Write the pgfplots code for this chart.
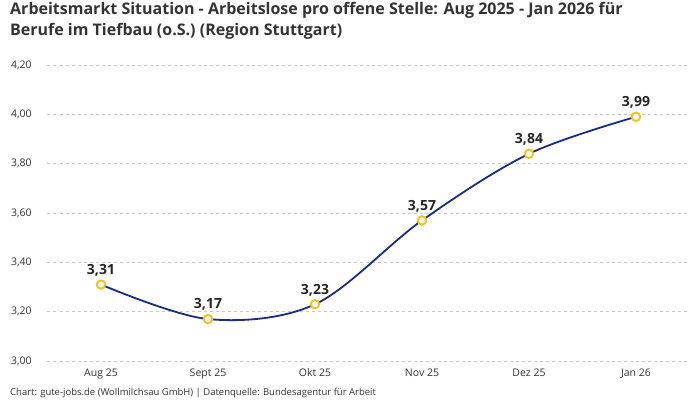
\documentclass[border=0pt]{standalone}
\usepackage{pgfplots}
\pgfplotsset{compat=1.18}
\usepackage{fontspec}
\setmainfont{Open Sans}
\definecolor{linie}{HTML}{1B2A8A}
\definecolor{punkt}{HTML}{F7C21B}
\definecolor{gitter}{HTML}{C8C8C8}
\definecolor{textgrau}{HTML}{333333}
\begin{document}
\begin{tikzpicture}[x=1pt,y=1pt]
\useasboundingbox (0,0) rectangle (700,400);
\node[anchor=north west,align=left,font=\fontsize{16}{21}\selectfont\bfseries,text=textgrau,inner sep=0pt] at (10,398)
  {Arbeitsmarkt Situation - Arbeitslose pro offene Stelle: Aug 2025 - Jan 2026 für\\Berufe im Tiefbau (o.S.) (Region Stuttgart)};
\node[anchor=west,font=\fontsize{9.5}{11}\selectfont,text=textgrau,inner sep=0pt] at (10,7)
  {Chart: gute-jobs.de (Wollmilchsau GmbH) | Datenquelle: Bundesagentur für Arbeit};
\begin{axis}[
    at={(47.5pt,39pt)},
    anchor=south west,
    scale only axis,
    width=642pt,
    height=296pt,
    xmin=-0.5, xmax=5.5,
    ymin=3.0, ymax=4.2,
    axis line style={draw=none},
    xtick={0,1,2,3,4,5},
    xticklabels={Aug 25,Sept 25,Okt 25,Nov 25,Dez 25,Jan 26},
    ytick={3.0,3.2,3.4,3.6,3.8,4.0,4.2},
    major tick length=0pt,
    ymajorgrids,
    grid style={gitter,dashed,line width=0.6pt},
    tick label style={font=\fontsize{10.5}{12}\selectfont,text=textgrau},
    yticklabel style={anchor=west,xshift=-40pt},
    xticklabel style={yshift=-4pt},
    /pgf/number format/.cd,fixed,fixed zerofill,precision=2,use comma,assume math mode=true,
    /pgfplots/.cd,
    clip=false,
]
\addplot[linie,line width=1.8pt,smooth,tension=0.55,
    mark=*,mark size=4.2pt,
    mark options={fill=white,draw=punkt,line width=2pt},
    nodes near coords,
    every node near coord/.append style={font=\fontsize{14}{15}\selectfont\bfseries,text=black!85,yshift=4pt},
    ] coordinates {
    (0,3.31) (1,3.17) (2,3.23) (3,3.57) (4,3.84) (5,3.99)
};
\end{axis}
\end{tikzpicture}
\end{document}
